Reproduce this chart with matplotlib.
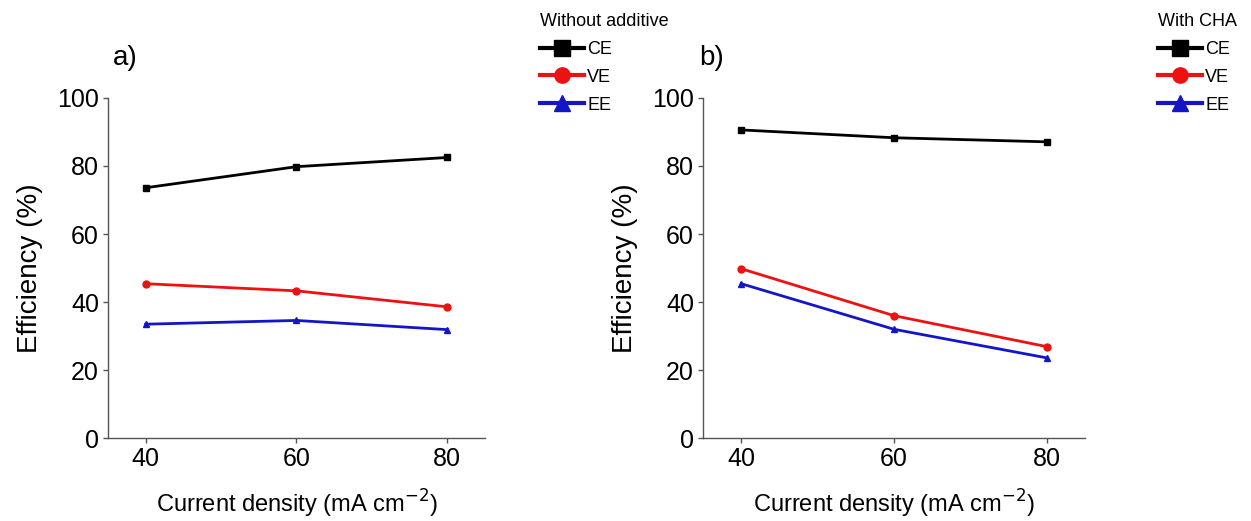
import matplotlib.pyplot as plt

plt.rcParams['font.family'] = ['Liberation Sans', 'DejaVu Sans']

current = [40, 60, 80]

# without additive
ce_a = [73.6, 79.8, 82.5]
ve_a = [45.4, 43.3, 38.6]
ee_a = [33.5, 34.6, 31.9]

# with CHA
ce_b = [90.6, 88.3, 87.1]
ve_b = [49.8, 36.0, 26.9]
ee_b = [45.4, 32.0, 23.6]

series_names = ['CE', 'VE', 'EE']
colors = ['black', '#ee1111', '#1515c8']
markers = ['s', 'o', '^']

fig = plt.figure(figsize=(12.51, 5.21), dpi=100)
ax_a = fig.add_axes([0.0863, 0.159, 0.3014, 0.653])
ax_b = fig.add_axes([0.562, 0.159, 0.3053, 0.653])


def draw_panel(ax, data, legend_title, legend_pos):
    for vals, name, c, m in zip(data, series_names, colors, markers):
        ax.plot(current, vals, color=c, marker=m, markersize=5, linewidth=2, label=name)
    ax.set_xlim(35, 85)
    ax.set_ylim(0, 100)
    ax.set_xticks(current)
    ax.set_yticks([0, 20, 40, 60, 80, 100])
    for s in ['top', 'right']:
        ax.spines[s].set_visible(False)
    for s in ['left', 'bottom']:
        ax.spines[s].set_color('#555555')
        ax.spines[s].set_linewidth(1)
    ax.tick_params(labelsize=18, length=3.5, width=1, color='#555555', pad=3)
    ax.set_xlabel('Current density (mA cm$^{-2}$)', fontsize=17, labelpad=12)
    ax.set_ylabel('Efficiency (%)', fontsize=20, labelpad=10)
    leg = ax.legend(title=legend_title, loc='upper left', bbox_to_anchor=legend_pos,
                    bbox_transform=fig.transFigure, frameon=False, fontsize=13,
                    title_fontsize=13, markerscale=2.2, handlelength=2.4,
                    handletextpad=0.2, borderpad=0, borderaxespad=0,
                    labelspacing=0.6, alignment='left')
    for line in leg.get_lines():
        line.set_linewidth(3)


draw_panel(ax_a, [ce_a, ve_a, ee_a], 'Without additive', (0.432, 0.975))
draw_panel(ax_b, [ce_b, ve_b, ee_b], 'With CHA', (0.926, 0.975))

fig.text(0.1, 0.889, 'a)', fontsize=20, ha='center', va='center')
fig.text(0.569, 0.889, 'b)', fontsize=20, ha='center', va='center')

fig.savefig('out.png', dpi=100)
